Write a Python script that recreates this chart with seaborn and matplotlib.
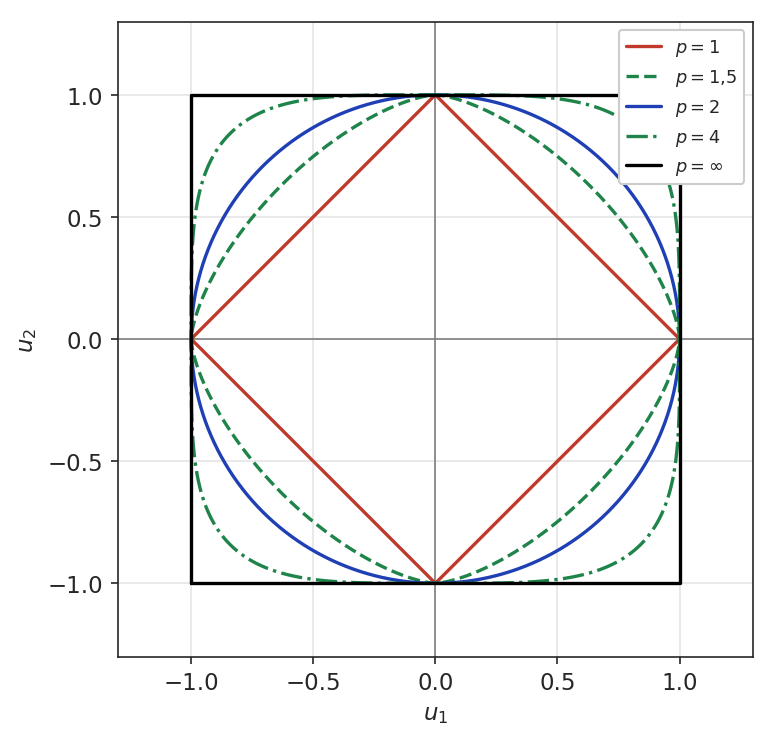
import numpy as np
import pandas as pd
import matplotlib
matplotlib.use("Agg")
import matplotlib.pyplot as plt
import seaborn as sns

# norm orders and styling shown in the legend
p_values = [1, 1.5, 2, 4, np.inf]
labels = [r"$p = 1$", r"$p = 1{,}5$", r"$p = 2$", r"$p = 4$", r"$p = \infty$"]
colors = ["#c0392b", "#1e8449", "#1f3fb5", "#1e8449", "#000000"]
dashes = ["-", "--", "-", "-.", "-"]

t = np.linspace(0, 2 * np.pi, 801)

sns.set_style("ticks")
fig, ax = plt.subplots(figsize=(5.2333, 4.9933), dpi=150)
ax.axhline(0, color="gray", lw=0.8, zorder=1)
ax.axvline(0, color="gray", lw=0.8, zorder=1)

for p, lab, c, ls in zip(p_values, labels, colors, dashes):
    if np.isinf(p):
        u1 = np.array([-1, 1, 1, -1, -1])
        u2 = np.array([-1, -1, 1, 1, -1])
    else:
        u1 = np.sign(np.cos(t)) * np.abs(np.cos(t)) ** (2 / p)
        u2 = np.sign(np.sin(t)) * np.abs(np.sin(t)) ** (2 / p)
    df = pd.DataFrame({"u1": u1, "u2": u2})
    sns.lineplot(data=df, x="u1", y="u2", sort=False, estimator=None,
                 color=c, linestyle=ls, lw=1.6, label=lab, ax=ax, zorder=3)

ax.set_xlim(-1.3, 1.3)
ax.set_ylim(-1.3, 1.3)
ax.set_aspect("equal")
ax.set_xticks([-1, -0.5, 0, 0.5, 1])
ax.set_yticks([-1, -0.5, 0, 0.5, 1])
ax.tick_params(labelsize=11)
ax.grid(True, color="#e5e5e5", lw=0.8, zorder=0)
ax.set_xlabel(r"$u_1$", fontsize=11)
ax.set_ylabel(r"$u_2$", fontsize=11)
ax.legend(loc="upper right", fontsize=8.5, framealpha=1)
plt.tight_layout()
plt.savefig("out.png", dpi=150)
